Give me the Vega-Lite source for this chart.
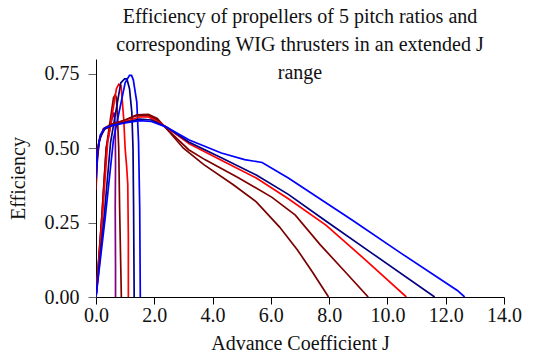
{
  "$schema": "https://vega.github.io/schema/vega-lite/v6.json",
  "autosize": {"type": "none"},
  "width": 408,
  "height": 238,
  "padding": {"left": 96, "top": 59, "right": 34, "bottom": 64},
  "background": "white",
  "config": {"view": {"stroke": null}, "font": "Liberation Serif"},
  "title": {
    "text": ["Efficiency of propellers of 5 pitch ratios and", "corresponding WIG thrusters in an extended J", "range"],
    "font": "Liberation Serif", "fontSize": 20, "fontWeight": "normal", "lineHeight": 28,
    "anchor": "middle", "frame": "group", "offset": 0, "dy": 24, "color": "#111"
  },
  "data": {"values": [
    {"s":"P1","i":0,"J":0,"E":0},{"s":"P1","i":1,"J":0.2,"E":0.27},{"s":"P1","i":2,"J":0.35,"E":0.5},{"s":"P1","i":3,"J":0.55,"E":0.6},{"s":"P1","i":4,"J":0.62,"E":0.62},{"s":"P1","i":5,"J":0.66,"E":0.58},{"s":"P1","i":6,"J":0.67,"E":0.45},{"s":"P1","i":7,"J":0.66,"E":0.3},{"s":"P1","i":8,"J":0.67,"E":0.1},{"s":"P1","i":9,"J":0.67,"E":0},
    {"s":"P2","i":0,"J":0,"E":0},{"s":"P2","i":1,"J":0.2,"E":0.27},{"s":"P2","i":2,"J":0.35,"E":0.5},{"s":"P2","i":3,"J":0.6,"E":0.67},{"s":"P2","i":4,"J":0.66,"E":0.68},{"s":"P2","i":5,"J":0.7,"E":0.67},{"s":"P2","i":6,"J":0.73,"E":0.62},{"s":"P2","i":7,"J":0.78,"E":0.5},{"s":"P2","i":8,"J":0.81,"E":0.3},{"s":"P2","i":9,"J":0.85,"E":0.1},{"s":"P2","i":10,"J":0.87,"E":0},
    {"s":"P3","i":0,"J":0,"E":0},{"s":"P3","i":1,"J":0.22,"E":0.27},{"s":"P3","i":2,"J":0.4,"E":0.52},{"s":"P3","i":3,"J":0.7,"E":0.7},{"s":"P3","i":4,"J":0.78,"E":0.715},{"s":"P3","i":5,"J":0.86,"E":0.71},{"s":"P3","i":6,"J":0.95,"E":0.6},{"s":"P3","i":7,"J":1.0,"E":0.5},{"s":"P3","i":8,"J":1.05,"E":0.44},{"s":"P3","i":9,"J":1.09,"E":0.38},{"s":"P3","i":10,"J":1.11,"E":0.2},{"s":"P3","i":11,"J":1.11,"E":0},
    {"s":"P4","i":0,"J":0,"E":0},{"s":"P4","i":1,"J":0.28,"E":0.27},{"s":"P4","i":2,"J":0.5,"E":0.52},{"s":"P4","i":3,"J":0.85,"E":0.72},{"s":"P4","i":4,"J":0.98,"E":0.733},{"s":"P4","i":5,"J":1.06,"E":0.733},{"s":"P4","i":6,"J":1.15,"E":0.7},{"s":"P4","i":7,"J":1.23,"E":0.62},{"s":"P4","i":8,"J":1.27,"E":0.5},{"s":"P4","i":9,"J":1.29,"E":0.3},{"s":"P4","i":10,"J":1.31,"E":0},
    {"s":"P5","i":0,"J":0,"E":0},{"s":"P5","i":1,"J":0.32,"E":0.27},{"s":"P5","i":2,"J":0.6,"E":0.53},{"s":"P5","i":3,"J":1.0,"E":0.72},{"s":"P5","i":4,"J":1.15,"E":0.745},{"s":"P5","i":5,"J":1.22,"E":0.745},{"s":"P5","i":6,"J":1.28,"E":0.73},{"s":"P5","i":7,"J":1.4,"E":0.655},{"s":"P5","i":8,"J":1.46,"E":0.52},{"s":"P5","i":9,"J":1.5,"E":0.3},{"s":"P5","i":10,"J":1.52,"E":0},
    {"s":"W1","i":0,"J":0,"E":0.36},{"s":"W1","i":1,"J":0.04,"E":0.45},{"s":"W1","i":2,"J":0.1,"E":0.52},{"s":"W1","i":3,"J":0.25,"E":0.565},{"s":"W1","i":4,"J":0.5,"E":0.58},{"s":"W1","i":5,"J":1.0,"E":0.595},{"s":"W1","i":6,"J":1.4,"E":0.612},{"s":"W1","i":7,"J":1.8,"E":0.614},{"s":"W1","i":8,"J":2.1,"E":0.6},{"s":"W1","i":9,"J":2.4,"E":0.568},{"s":"W1","i":10,"J":3.0,"E":0.5},{"s":"W1","i":11,"J":3.7,"E":0.445},{"s":"W1","i":12,"J":4.7,"E":0.378},{"s":"W1","i":13,"J":5.5,"E":0.32},{"s":"W1","i":14,"J":6.3,"E":0.235},{"s":"W1","i":15,"J":6.9,"E":0.16},{"s":"W1","i":16,"J":7.42,"E":0.085},{"s":"W1","i":17,"J":7.98,"E":0},
    {"s":"W2","i":0,"J":0,"E":0.38},{"s":"W2","i":1,"J":0.04,"E":0.46},{"s":"W2","i":2,"J":0.12,"E":0.53},{"s":"W2","i":3,"J":0.3,"E":0.568},{"s":"W2","i":4,"J":0.6,"E":0.58},{"s":"W2","i":5,"J":1.0,"E":0.595},{"s":"W2","i":6,"J":1.4,"E":0.61},{"s":"W2","i":7,"J":1.8,"E":0.61},{"s":"W2","i":8,"J":2.1,"E":0.595},{"s":"W2","i":9,"J":2.4,"E":0.568},{"s":"W2","i":10,"J":3.18,"E":0.495},{"s":"W2","i":11,"J":3.75,"E":0.461},{"s":"W2","i":12,"J":4.9,"E":0.4},{"s":"W2","i":13,"J":6.04,"E":0.335},{"s":"W2","i":14,"J":6.84,"E":0.275},{"s":"W2","i":15,"J":7.69,"E":0.176},{"s":"W2","i":16,"J":8.5,"E":0.09},{"s":"W2","i":17,"J":9.34,"E":0},
    {"s":"W3","i":0,"J":0,"E":0.45},{"s":"W3","i":1,"J":0.05,"E":0.5},{"s":"W3","i":2,"J":0.15,"E":0.54},{"s":"W3","i":3,"J":0.3,"E":0.565},{"s":"W3","i":4,"J":0.6,"E":0.578},{"s":"W3","i":5,"J":1.0,"E":0.59},{"s":"W3","i":6,"J":1.5,"E":0.605},{"s":"W3","i":7,"J":1.8,"E":0.605},{"s":"W3","i":8,"J":2.1,"E":0.59},{"s":"W3","i":9,"J":2.4,"E":0.572},{"s":"W3","i":10,"J":3.2,"E":0.515},{"s":"W3","i":11,"J":4.3,"E":0.46},{"s":"W3","i":12,"J":5.5,"E":0.4},{"s":"W3","i":13,"J":6.6,"E":0.33},{"s":"W3","i":14,"J":7.9,"E":0.241},{"s":"W3","i":15,"J":9.3,"E":0.12},{"s":"W3","i":16,"J":10.65,"E":0},
    {"s":"W4","i":0,"J":0,"E":0.42},{"s":"W4","i":1,"J":0.05,"E":0.49},{"s":"W4","i":2,"J":0.15,"E":0.54},{"s":"W4","i":3,"J":0.3,"E":0.565},{"s":"W4","i":4,"J":0.6,"E":0.578},{"s":"W4","i":5,"J":1.0,"E":0.587},{"s":"W4","i":6,"J":1.5,"E":0.598},{"s":"W4","i":7,"J":1.9,"E":0.595},{"s":"W4","i":8,"J":2.4,"E":0.572},{"s":"W4","i":9,"J":3.2,"E":0.52},{"s":"W4","i":10,"J":4.3,"E":0.468},{"s":"W4","i":11,"J":5.5,"E":0.41},{"s":"W4","i":12,"J":6.6,"E":0.345},{"s":"W4","i":13,"J":7.85,"E":0.258},{"s":"W4","i":14,"J":9.5,"E":0.145},{"s":"W4","i":15,"J":11.62,"E":0},
    {"s":"W5","i":0,"J":0,"E":0.4},{"s":"W5","i":1,"J":0.05,"E":0.49},{"s":"W5","i":2,"J":0.15,"E":0.545},{"s":"W5","i":3,"J":0.3,"E":0.568},{"s":"W5","i":4,"J":0.6,"E":0.578},{"s":"W5","i":5,"J":1.0,"E":0.585},{"s":"W5","i":6,"J":1.5,"E":0.593},{"s":"W5","i":7,"J":1.9,"E":0.59},{"s":"W5","i":8,"J":2.4,"E":0.572},{"s":"W5","i":9,"J":3.2,"E":0.528},{"s":"W5","i":10,"J":4.3,"E":0.484},{"s":"W5","i":11,"J":5.1,"E":0.462},{"s":"W5","i":12,"J":5.7,"E":0.452},{"s":"W5","i":13,"J":6.6,"E":0.4},{"s":"W5","i":14,"J":8.8,"E":0.258},{"s":"W5","i":15,"J":10.5,"E":0.145},{"s":"W5","i":16,"J":12.4,"E":0.022},{"s":"W5","i":17,"J":12.65,"E":0}
  ]},
  "mark": {"type": "line", "strokeWidth": 1.7, "interpolate": "linear", "clip": true},
  "encoding": {
    "x": {"field": "J", "type": "quantitative", "scale": {"domain": [0, 14], "nice": false, "zero": false},
      "axis": {"title": "Advance Coefficient J", "values": [0,2,4,6,8,10,12,14], "format": ".1f", "grid": false, "labelFlush": false, "labelOverlap": false,
        "domainColor": "black", "tickColor": "black", "tickSize": 7, "labelFontSize": 20, "labelFont": "Liberation Serif", "labelColor": "#111",
        "titleFont": "Liberation Serif", "titleFontSize": 20, "titleFontWeight": "normal", "titleColor": "#111", "labelPadding": 1, "titlePadding": 8}},
    "y": {"field": "E", "type": "quantitative", "scale": {"domain": [0, 0.8], "nice": false},
      "axis": {"title": "Efficiency", "values": [0,0.25,0.5,0.75], "format": ".2f", "grid": false, "labelFlush": false, "labelOverlap": false,
        "domainColor": "black", "tickColor": "#666", "tickSize": 8, "labelFontSize": 20, "labelFont": "Liberation Serif", "labelColor": "#111",
        "titleFont": "Liberation Serif", "titleFontSize": 20, "titleFontWeight": "normal", "titleColor": "#111", "labelPadding": 9, "titlePadding": 16}},
    "color": {"field": "s", "type": "nominal", "legend": null,
      "scale": {"domain": ["P1","P2","P3","P4","P5","W1","W2","W3","W4","W5"],
        "range": ["#800080","#800000","#ff0000","#000080","#0000ff","#7a0000","#800000","#ff0000","#000080","#0000ff"]}},
    "order": {"field": "i", "type": "quantitative"}
  }
}
